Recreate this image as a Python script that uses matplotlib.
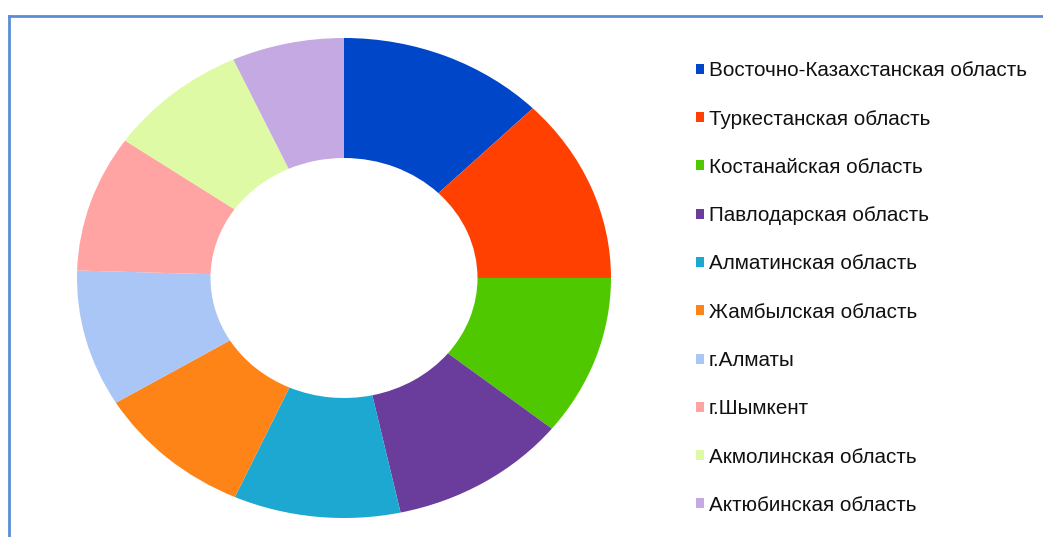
import matplotlib.pyplot as plt
from matplotlib.lines import Line2D
from matplotlib.patches import Patch

# Data
regions = [
    "Восточно-Казахстанская область",
    "Туркестанская область",
    "Костанайская область",
    "Павлодарская область",
    "Алматинская область",
    "Жамбылская область",
    "г.Алматы",
    "г.Шымкент",
    "Акмолинская область",
    "Актюбинская область",
]
shares = [12.5, 12.5, 10.8, 10.8, 10.1, 9.6, 9.2, 9.2, 8.5, 6.8]
colors = ["#0046C8", "#FF4000", "#50C800", "#6A3C9C", "#1CA8D0",
          "#FF8418", "#A9C6F7", "#FFA3A3", "#DFFAA4", "#C4A9E3"]

plt.rcParams['font.family'] = ['Liberation Sans', 'DejaVu Sans']

fig = plt.figure(figsize=(10.43, 5.37), dpi=100)
ax = fig.add_axes([77 / 1043, 19 / 537, 534 / 1043, 480 / 537])

ax.pie(shares, colors=colors, startangle=90, counterclock=False,
       radius=1.0, wedgeprops=dict(width=0.5, linewidth=0))
ax.set_aspect('auto')
ax.set_xlim(-1, 1)
ax.set_ylim(-1, 1)
ax.axis('off')

# legend
handles = [Patch(facecolor=c, edgecolor='none') for c in colors]
fig.legend(handles, regions, loc='upper left',
           bbox_to_anchor=(688 / 1043, 1 - 53 / 537),
           frameon=False, fontsize=14.9, handlelength=0.36, handleheight=0.36,
           handletextpad=0.25, labelspacing=1.415, borderaxespad=0,
           labelcolor='#111111')

# frame around the chart
border = "#5B8CD8"
fig.add_artist(Line2D([9 / 1043, 1], [1 - 16 / 537, 1 - 16 / 537],
                      color=border, linewidth=2, transform=fig.transFigure))
fig.add_artist(Line2D([9 / 1043, 9 / 1043], [0, 1 - 16 / 537],
                      color=border, linewidth=2, transform=fig.transFigure))

fig.savefig("out.png", dpi=100)
